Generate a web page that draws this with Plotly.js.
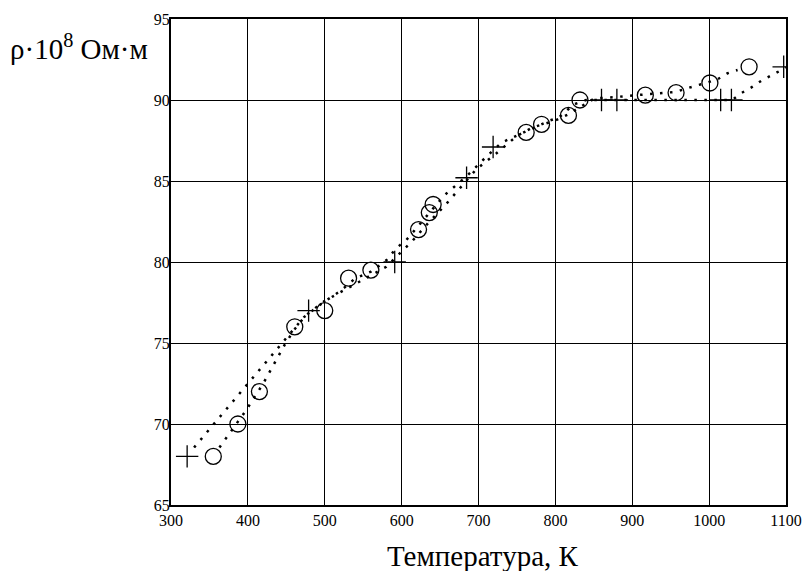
<!DOCTYPE html>
<html>
<head>
<meta charset="utf-8">
<script src="https://cdn.plot.ly/plotly-3.0.1.min.js"></script>
<style>html,body{margin:0;padding:0;background:#fff;}#chart{width:804px;height:571px;}</style>
</head>
<body>
<div id="chart"></div>
<script>
// Circles (measured series 1)
const circleT   = [355, 387, 415, 461, 500, 531, 560, 622, 636, 641, 762, 782, 817, 832, 917, 957, 1001, 1052];
const circleRho = [68.0, 70.0, 72.0, 76.0, 77.0, 79.0, 79.5, 82.0, 83.05, 83.55, 88.0, 88.5, 89.05, 90.0, 90.3, 90.45, 91.05, 92.05];

// Crosses (measured series 2)
const crossT   = [321, 479, 591, 684.5, 719, 860, 880, 1015, 1029, 1097];
const crossRho = [68.0, 77.0, 80.0, 85.2, 87.1, 90.0, 90.0, 90.0, 90.0, 92.05];

// Dotted curve A (through crosses)
const curveAT   = [330, 442, 455, 473, 498, 520, 540, 560, 580, 593, 606, 627, 656, 684, 708, 730, 750, 792, 805, 824, 840, 1030, 1041, 1055, 1068, 1082, 1100];
const curveARho = [68.55, 74.9, 75.6, 76.6, 77.5, 78.2, 79.0, 79.4, 80.1, 80.85, 81.35, 82.5, 84.14, 85.27, 86.4, 87.37, 87.8, 88.72, 88.93, 89.73, 90.0, 90.0, 90.4, 90.78, 91.19, 91.54, 92.0];

// Dotted curve B (through circles)
const curveBT   = [363, 397, 420, 448, 460, 475, 500, 524, 552, 580, 601, 613, 635, 658, 679, 697, 723, 750, 770, 799, 816, 838, 851, 875, 903, 930, 957, 971, 997, 1011, 1024, 1037];
const curveBRho = [68.55, 70.8, 72.5, 74.9, 75.8, 76.7, 77.6, 78.23, 79.0, 79.7, 80.7, 81.25, 82.43, 83.58, 84.73, 85.72, 86.7, 87.78, 88.3, 88.72, 89.1, 89.7, 90.1, 90.17, 90.3, 90.4, 90.5, 90.72, 91.07, 91.28, 91.65, 91.85];

const xTicks = [300, 400, 500, 600, 700, 800, 900, 1000, 1100];
const yTicks = [65, 70, 75, 80, 85, 90, 95];

const serif = 'Liberation Serif, Times New Roman, serif';
const dotLine = {color: '#000', width: 2.5, dash: '2.5px,7.5px'};

const traces = [
  {x: curveAT, y: curveARho, mode: 'lines', line: dotLine, hoverinfo: 'skip'},
  {x: curveBT, y: curveBRho, mode: 'lines', line: dotLine, hoverinfo: 'skip'},
  {x: circleT, y: circleRho, mode: 'markers',
   marker: {symbol: 'circle-open', size: 16, color: '#000', line: {color: '#000', width: 1.3}}},
  {x: crossT, y: crossRho, mode: 'markers',
   marker: {symbol: 'cross-thin-open', size: 16, color: '#000', line: {color: '#000', width: 1.3}}}
];

const layout = {
  width: 804, height: 571,
  margin: {l: 171, r: 18, t: 19, b: 66},
  paper_bgcolor: '#fff', plot_bgcolor: '#fff',
  showlegend: false,
  font: {family: serif, color: '#000', size: 16},
  xaxis: {
    range: [300, 1100], tickvals: xTicks, ticktext: xTicks.map(String),
    showgrid: true, gridcolor: '#000', gridwidth: 1,
    showline: true, linecolor: '#000', linewidth: 2, mirror: true,
    zeroline: false, ticks: '', tickfont: {family: serif, size: 16, color: '#000'}
  },
  yaxis: {
    range: [65, 95], tickvals: yTicks, ticktext: yTicks.map(String),
    showgrid: true, gridcolor: '#000', gridwidth: 1,
    showline: true, linecolor: '#000', linewidth: 2, mirror: true,
    zeroline: false, ticks: '', ticklabelstandoff: -4,
    tickfont: {family: serif, size: 16, color: '#000'}
  },
  annotations: [
    {text: 'ρ·10<sup>8</sup> Ом·м', xref: 'paper', yref: 'paper',
     x: (8 - 171) / 615, y: (505 - 47) / 486, xanchor: 'left', yanchor: 'middle',
     showarrow: false, font: {family: serif, size: 29, color: '#000'}},
    {text: 'Температура, К', xref: 'paper', yref: 'paper',
     x: (483 - 171) / 615, y: (505 - 556) / 486, xanchor: 'center', yanchor: 'middle',
     showarrow: false, font: {family: serif, size: 29, color: '#000'}}
  ]
};

Plotly.newPlot('chart', traces, layout, {staticPlot: true, displayModeBar: false});
</script>
</body>
</html>
